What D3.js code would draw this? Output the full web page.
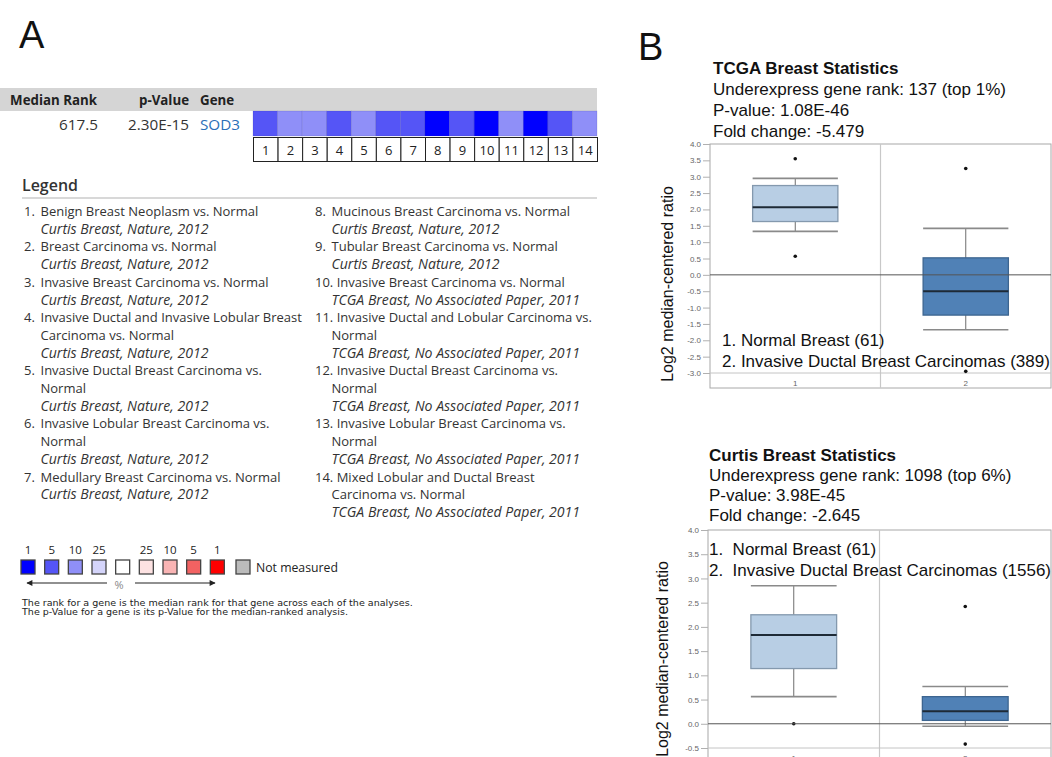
<!DOCTYPE html>
<html>
<head>
<meta charset="utf-8">
<script src="https://cdn.jsdelivr.net/npm/d3@7"></script>
<style>
  html, body { margin: 0; padding: 0; background: #fff; }
  svg { display: block; }
</style>
</head>
<body>
<svg id="chart" width="1052" height="757"></svg>
<script>
// ---------------- DATA ----------------
const heatColumns = ["1","2","3","4","5","6","7","8","9","10","11","12","13","14"];
const heatPercent = [5, 10, 10, 5, 10, 5, 5, 1, 5, 1, 10, 1, 5, 10];
const headerLabels = ["Median Rank", "p-Value", "Gene"];
const rowValues = ["617.5", "2.30E-15", "SOD3"];

const legendLeft = [
  {num: "1.", lines: ["Benign Breast Neoplasm vs. Normal"], source: "Curtis Breast, Nature, 2012"},
  {num: "2.", lines: ["Breast Carcinoma vs. Normal"], source: "Curtis Breast, Nature, 2012"},
  {num: "3.", lines: ["Invasive Breast Carcinoma vs. Normal"], source: "Curtis Breast, Nature, 2012"},
  {num: "4.", lines: ["Invasive Ductal and Invasive Lobular Breast", "Carcinoma vs. Normal"], source: "Curtis Breast, Nature, 2012"},
  {num: "5.", lines: ["Invasive Ductal Breast Carcinoma vs.", "Normal"], source: "Curtis Breast, Nature, 2012"},
  {num: "6.", lines: ["Invasive Lobular Breast Carcinoma vs.", "Normal"], source: "Curtis Breast, Nature, 2012"},
  {num: "7.", lines: ["Medullary Breast Carcinoma vs. Normal"], source: "Curtis Breast, Nature, 2012"}
];
const legendRight = [
  {num: "8.", lines: ["Mucinous Breast Carcinoma vs. Normal"], source: "Curtis Breast, Nature, 2012"},
  {num: "9.", lines: ["Tubular Breast Carcinoma vs. Normal"], source: "Curtis Breast, Nature, 2012"},
  {num: "10.", lines: ["Invasive Breast Carcinoma vs. Normal"], source: "TCGA Breast, No Associated Paper, 2011"},
  {num: "11.", lines: ["Invasive Ductal and Lobular Carcinoma vs.", "Normal"], source: "TCGA Breast, No Associated Paper, 2011"},
  {num: "12.", lines: ["Invasive Ductal Breast Carcinoma vs.", "Normal"], source: "TCGA Breast, No Associated Paper, 2011"},
  {num: "13.", lines: ["Invasive Lobular Breast Carcinoma vs.", "Normal"], source: "TCGA Breast, No Associated Paper, 2011"},
  {num: "14.", lines: ["Mixed Lobular and Ductal Breast", "Carcinoma vs. Normal"], source: "TCGA Breast, No Associated Paper, 2011"}
];

const scaleLabels = ["1", "5", "10", "25", "", "25", "10", "5", "1"];
const scaleColors = ["#0000ff", "#5555f6", "#8f8ff8", "#d4d4fa", "#ffffff", "#fde2e2", "#f9b4b4", "#f26262", "#ff0000"];
const footnotes = [
  "The rank for a gene is the median rank for that gene across each of the analyses.",
  "The p-Value for a gene is its p-Value for the median-ranked analysis."
];

const groups = ["1", "2"];
const groupColors = ["#b8cee4", "#5081b6"];
const groupStroke = ["#8499ae", "#3d6590"];

// TCGA box plot (per group)
const tcgaWhiskerLow = [1.33, -1.68];
const tcgaQ1 = [1.63, -1.23];
const tcgaMedian = [2.07, -0.50];
const tcgaQ3 = [2.73, 0.52];
const tcgaWhiskerHigh = [2.95, 1.42];
const tcgaOutliers = [[3.55, 0.57], [3.25, -2.95]];
const tcgaTicks = [4.0, 3.5, 3.0, 2.5, 2.0, 1.5, 1.0, 0.5, 0.0, -0.5, -1.0, -1.5, -2.0, -2.5, -3.0];
const tcgaInfo = ["TCGA Breast Statistics", "Underexpress gene rank: 137 (top 1%)", "P-value: 1.08E-46", "Fold change: -5.479"];
const tcgaLegend = ["1. Normal Breast (61)", "2. Invasive Ductal Breast Carcinomas (389)"];

// Curtis box plot (per group)
const curtisWhiskerLow = [0.56, -0.05];
const curtisQ1 = [1.14, 0.07];
const curtisMedian = [1.83, 0.26];
const curtisQ3 = [2.25, 0.56];
const curtisWhiskerHigh = [2.85, 0.77];
const curtisOutliers = [[0.0], [2.42, -0.42]];
const curtisTicks = [4.0, 3.5, 3.0, 2.5, 2.0, 1.5, 1.0, 0.5, 0.0, -0.5];
const curtisInfo = ["Curtis Breast Statistics", "Underexpress gene rank: 1098 (top 6%)", "P-value: 3.98E-45", "Fold change: -2.645"];
const curtisLegend = ["1.  Normal Breast (61)", "2.  Invasive Ductal Breast Carcinomas (1556)"];

// ---------------- DRAW ----------------
const svg = d3.select("#chart");
const fontA = "'Open Sans', 'DejaVu Sans', sans-serif";
const fontB = "'Liberation Sans', Arial, sans-serif";

function measure(text, family, size, weight, style) {
  const t = svg.append("text").attr("font-family", family).attr("font-size", size)
    .attr("font-weight", weight || "normal").attr("font-style", style || "normal")
    .attr("xml:space", "preserve").text(text);
  const w = t.node().getComputedTextLength();
  t.remove();
  return w;
}
function fitSize(text, family, target, weight, style) {
  return 12 * target / measure(text, family, 12, weight, style);
}

const headSize = fitSize("Median Rank", fontA, 87, "bold");
const valSize = fitSize("2.30E-15", fontA, 61);
const legSize = fitSize("1. Benign Breast Neoplasm vs. Normal", fontA, 232);
const italSize = fitSize("Curtis Breast, Nature, 2012", fontA, 168, "normal", "italic");
const footSize = fitSize(footnotes[0], "'DejaVu Sans', sans-serif", 391);

// Panel letters
svg.append("text").attr("x", 19).attr("y", 48).text("A")
  .attr("font-family", fontB).attr("font-size", 38).attr("fill", "#111");
svg.append("text").attr("x", 638).attr("y", 60).text("B")
  .attr("font-family", fontB).attr("font-size", 38).attr("fill", "#111");

// ---- Panel A: header band ----
svg.append("rect").attr("x", 0).attr("y", 88).attr("width", 597).attr("height", 23).attr("fill", "#d5d5d5");
const headerX = [97, 189, 200];
const headerAnchor = ["end", "end", "start"];
svg.selectAll("text.hdr").data(headerLabels).join("text").attr("class", "hdr")
  .attr("x", (d, i) => headerX[i]).attr("y", 105).attr("text-anchor", (d, i) => headerAnchor[i])
  .attr("font-family", fontA).attr("font-size", headSize).attr("font-weight", "bold").attr("fill", "#222")
  .text(d => d);
const valueX = [98, 189, 200];
svg.selectAll("text.val").data(rowValues).join("text").attr("class", "val")
  .attr("x", (d, i) => valueX[i]).attr("y", 130).attr("text-anchor", (d, i) => headerAnchor[i])
  .attr("font-family", fontA).attr("font-size", valSize)
  .attr("fill", (d, i) => i === 2 ? "#2b6fb8" : "#333").text(d => d);

// Heatmap cells
const xHeat = d3.scaleBand().domain(heatColumns).range([253, 597]);
const pctColor = d3.scaleOrdinal().domain([1, 5, 10, 25]).range([scaleColors[0], scaleColors[1], scaleColors[2], scaleColors[3]]);
svg.selectAll("rect.cell").data(heatColumns).join("rect").attr("class", "cell")
  .attr("x", d => xHeat(d)).attr("y", 111).attr("width", xHeat.bandwidth()).attr("height", 25)
  .attr("fill", (d, i) => pctColor(heatPercent[i]))
  .attr("stroke", "rgba(40,40,140,0.25)").attr("stroke-width", 0.6);
svg.selectAll("rect.num").data(heatColumns).join("rect").attr("class", "num")
  .attr("x", d => xHeat(d) + 0.5).attr("y", 137.5).attr("width", xHeat.bandwidth()).attr("height", 24)
  .attr("fill", "#fff").attr("stroke", "#222").attr("stroke-width", 1);
svg.selectAll("text.num").data(heatColumns).join("text").attr("class", "num")
  .attr("x", d => xHeat(d) + xHeat.bandwidth() / 2 + 0.5).attr("y", 155).attr("text-anchor", "middle")
  .attr("font-family", fontA).attr("font-size", 13).attr("fill", "#222").text(d => d);

// Legend header
svg.append("text").attr("x", 22).attr("y", 191).text("Legend")
  .attr("font-family", fontA).attr("font-size", fitSize("Legend", fontA, 56, 600)).attr("fill", "#333").attr("font-weight", 600);
svg.append("line").attr("x1", 22).attr("x2", 597).attr("y1", 198).attr("y2", 198)
  .attr("stroke", "#d8d8d8").attr("stroke-width", 2);

function drawLegendColumn(items, x0) {
  const step = 17.7;
  const hang = 16.5;
  let row = 0;
  items.forEach(item => {
    const numW = measure(item.num + "\u00a0", fontA, legSize);
    svg.append("text").attr("x", x0).attr("y", 216 + row * step)
      .attr("font-family", fontA).attr("font-size", legSize).attr("fill", "#333").text(item.num);
    item.lines.forEach((ln, j) => {
      svg.append("text").attr("x", j === 0 ? x0 + Math.max(hang, numW) : x0 + hang).attr("y", 216 + row * step)
        .attr("font-family", fontA).attr("font-size", legSize).attr("fill", "#333").text(ln);
      row++;
    });
    svg.append("text").attr("x", x0 + hang).attr("y", 216 + row * step)
      .attr("font-family", fontA).attr("font-size", italSize).attr("font-style", "italic").attr("fill", "#333")
      .text(item.source);
    row++;
  });
}
drawLegendColumn(legendLeft, 24);
drawLegendColumn(legendRight, 315);

// Colour scale legend
const keySize = 14;
const xScaleKey = d3.scaleBand().domain(d3.range(scaleColors.length)).range([21, 225]).paddingInner(0.38);
svg.selectAll("rect.key").data(scaleColors).join("rect").attr("class", "key")
  .attr("x", (d, i) => xScaleKey(i)).attr("y", 560).attr("width", keySize).attr("height", keySize)
  .attr("fill", d => d).attr("stroke", "#444").attr("stroke-width", 1.3);
svg.selectAll("text.key").data(scaleLabels).join("text").attr("class", "key")
  .attr("x", (d, i) => xScaleKey(i) + keySize / 2).attr("y", 554).attr("text-anchor", "middle")
  .attr("font-family", fontA).attr("font-size", 11.5).attr("fill", "#222").text(d => d);
svg.append("rect").attr("x", 236).attr("y", 560).attr("width", keySize).attr("height", keySize)
  .attr("fill", "#bbbbbb").attr("stroke", "#444").attr("stroke-width", 1.3);
svg.append("text").attr("x", 256).attr("y", 572).text("Not measured")
  .attr("font-family", fontA).attr("font-size", fitSize("Not measured", fontA, 82)).attr("fill", "#222");

const defs = svg.append("defs");
defs.append("marker").attr("id", "ah").attr("viewBox", "0 0 10 10").attr("refX", 9).attr("refY", 5)
  .attr("markerWidth", 9).attr("markerHeight", 6).attr("markerUnits", "userSpaceOnUse").attr("orient", "auto-start-reverse")
  .append("path").attr("d", "M0,0 L10,5 L0,10 Z").attr("fill", "#222");
svg.append("line").attr("x1", 107).attr("x2", 27).attr("y1", 583).attr("y2", 583)
  .attr("stroke", "#222").attr("stroke-width", 1.2).attr("marker-end", "url(#ah)");
svg.append("line").attr("x1", 135).attr("x2", 215).attr("y1", 583).attr("y2", 583)
  .attr("stroke", "#222").attr("stroke-width", 1.2).attr("marker-end", "url(#ah)");
svg.append("text").attr("x", 119).attr("y", 589).attr("text-anchor", "middle").text("%")
  .attr("font-family", fontA).attr("font-size", 11).attr("fill", "#888");

svg.selectAll("text.foot").data(footnotes).join("text").attr("class", "foot")
  .attr("x", 22).attr("y", (d, i) => 606 + i * 9)
  .attr("font-family", "'DejaVu Sans', sans-serif").attr("font-size", footSize).attr("fill", "#222").text(d => d);

// ---- Panel B: box plots ----
function drawBoxPanel(cfg) {
  const g = svg.append("g");
  cfg.info.forEach((t, i) => {
    g.append("text").attr("x", cfg.infoX).attr("y", cfg.infoY + i * cfg.infoStep)
      .attr("font-family", fontB).attr("font-size", 17).attr("fill", "#111")
      .attr("font-weight", i === 0 ? "bold" : "normal").text(t);
  });
  const y = d3.scaleLinear().domain(cfg.domain).range(cfg.yRange);
  const x = d3.scaleBand().domain(groups).range([cfg.left, cfg.right]);
  const top = cfg.yRange[1];
  const baseLine = y(cfg.domain[0]);

  g.append("rect").attr("x", cfg.left).attr("y", top).attr("width", cfg.right - cfg.left).attr("height", cfg.bottom - top)
    .attr("fill", "none").attr("stroke", "#a8a8a8").attr("stroke-width", 1);
  g.append("line").attr("x1", x("2")).attr("x2", x("2")).attr("y1", top).attr("y2", cfg.bottom)
    .attr("stroke", "#c8c8c8").attr("stroke-width", 1.2);
  g.append("line").attr("x1", cfg.left).attr("x2", cfg.right).attr("y1", baseLine).attr("y2", baseLine)
    .attr("stroke", "#c4c4c4").attr("stroke-width", 1);

  const axis = d3.axisLeft(y).tickValues(cfg.ticks).tickSize(7).tickPadding(2).tickFormat(d => d.toFixed(1));
  const ax = g.append("g").attr("transform", `translate(${cfg.left},0)`).call(axis);
  ax.select(".domain").remove();
  ax.selectAll(".tick line").attr("stroke", "#b0b0b0");
  ax.selectAll(".tick text").attr("font-family", fontB).attr("font-size", 8).attr("fill", "#666");

  g.append("text").attr("transform", `translate(${cfg.titleX},${cfg.titleY}) rotate(-90)`)
    .attr("text-anchor", "middle").attr("font-family", fontB).attr("font-size", 16).attr("fill", "#111")
    .text("Log2 median-centered ratio");

  g.selectAll("text.cat").data(groups).join("text").attr("class", "cat")
    .attr("x", d => x(d) + x.bandwidth() / 2).attr("y", cfg.catY).attr("text-anchor", "middle")
    .attr("font-family", fontB).attr("font-size", 8).attr("fill", "#666").text(d => d);

  const bw = x.bandwidth() * 0.5;
  groups.forEach((grp, i) => {
    const cx = x(grp) + x.bandwidth() / 2;
    g.append("line").attr("x1", cx).attr("x2", cx).attr("y1", y(cfg.wHigh[i])).attr("y2", y(cfg.wLow[i]))
      .attr("stroke", "#6e6e6e").attr("stroke-width", 1);
    [cfg.wHigh[i], cfg.wLow[i]].forEach(v => {
      g.append("line").attr("x1", cx - bw / 2).attr("x2", cx + bw / 2).attr("y1", y(v)).attr("y2", y(v))
        .attr("stroke", "#8a8a8a").attr("stroke-width", 1.6);
    });
    g.append("rect").attr("x", cx - bw / 2).attr("y", y(cfg.q3[i])).attr("width", bw)
      .attr("height", y(cfg.q1[i]) - y(cfg.q3[i]))
      .attr("fill", groupColors[i]).attr("stroke", groupStroke[i]).attr("stroke-width", 1.3);
    g.append("line").attr("x1", cx - bw / 2).attr("x2", cx + bw / 2).attr("y1", y(cfg.med[i])).attr("y2", y(cfg.med[i]))
      .attr("stroke", "#1e2a36").attr("stroke-width", 2);
    cfg.out[i].forEach(v => {
      g.append("circle").attr("cx", cx).attr("cy", y(v)).attr("r", 1.8).attr("fill", "#111");
    });
  });

  g.append("line").attr("x1", cfg.left).attr("x2", cfg.right).attr("y1", y(0)).attr("y2", y(0))
    .attr("stroke", "#555").attr("stroke-width", 1);

  cfg.legend.forEach((t, i) => {
    g.append("text").attr("x", cfg.legX).attr("y", cfg.legY + i * 20.5)
      .attr("font-family", fontB).attr("font-size", 17).attr("fill", "#111")
      .attr("xml:space", "preserve").text(t);
  });
}

drawBoxPanel({
  info: tcgaInfo, infoX: 713, infoY: 74, infoStep: 21,
  domain: [-3, 4], yRange: [373, 144], ticks: tcgaTicks,
  left: 710, right: 1051, bottom: 388, catY: 386,
  titleX: 673, titleY: 284,
  wLow: tcgaWhiskerLow, q1: tcgaQ1, med: tcgaMedian, q3: tcgaQ3, wHigh: tcgaWhiskerHigh, out: tcgaOutliers,
  legend: tcgaLegend, legX: 722, legY: 346
});

drawBoxPanel({
  info: curtisInfo, infoX: 709, infoY: 461, infoStep: 20,
  domain: [-0.5, 4], yRange: [748, 530], ticks: curtisTicks,
  left: 708, right: 1051, bottom: 770, catY: 761,
  titleX: 668, titleY: 659,
  wLow: curtisWhiskerLow, q1: curtisQ1, med: curtisMedian, q3: curtisQ3, wHigh: curtisWhiskerHigh, out: curtisOutliers,
  legend: curtisLegend, legX: 709, legY: 555
});
</script>
</body>
</html>
